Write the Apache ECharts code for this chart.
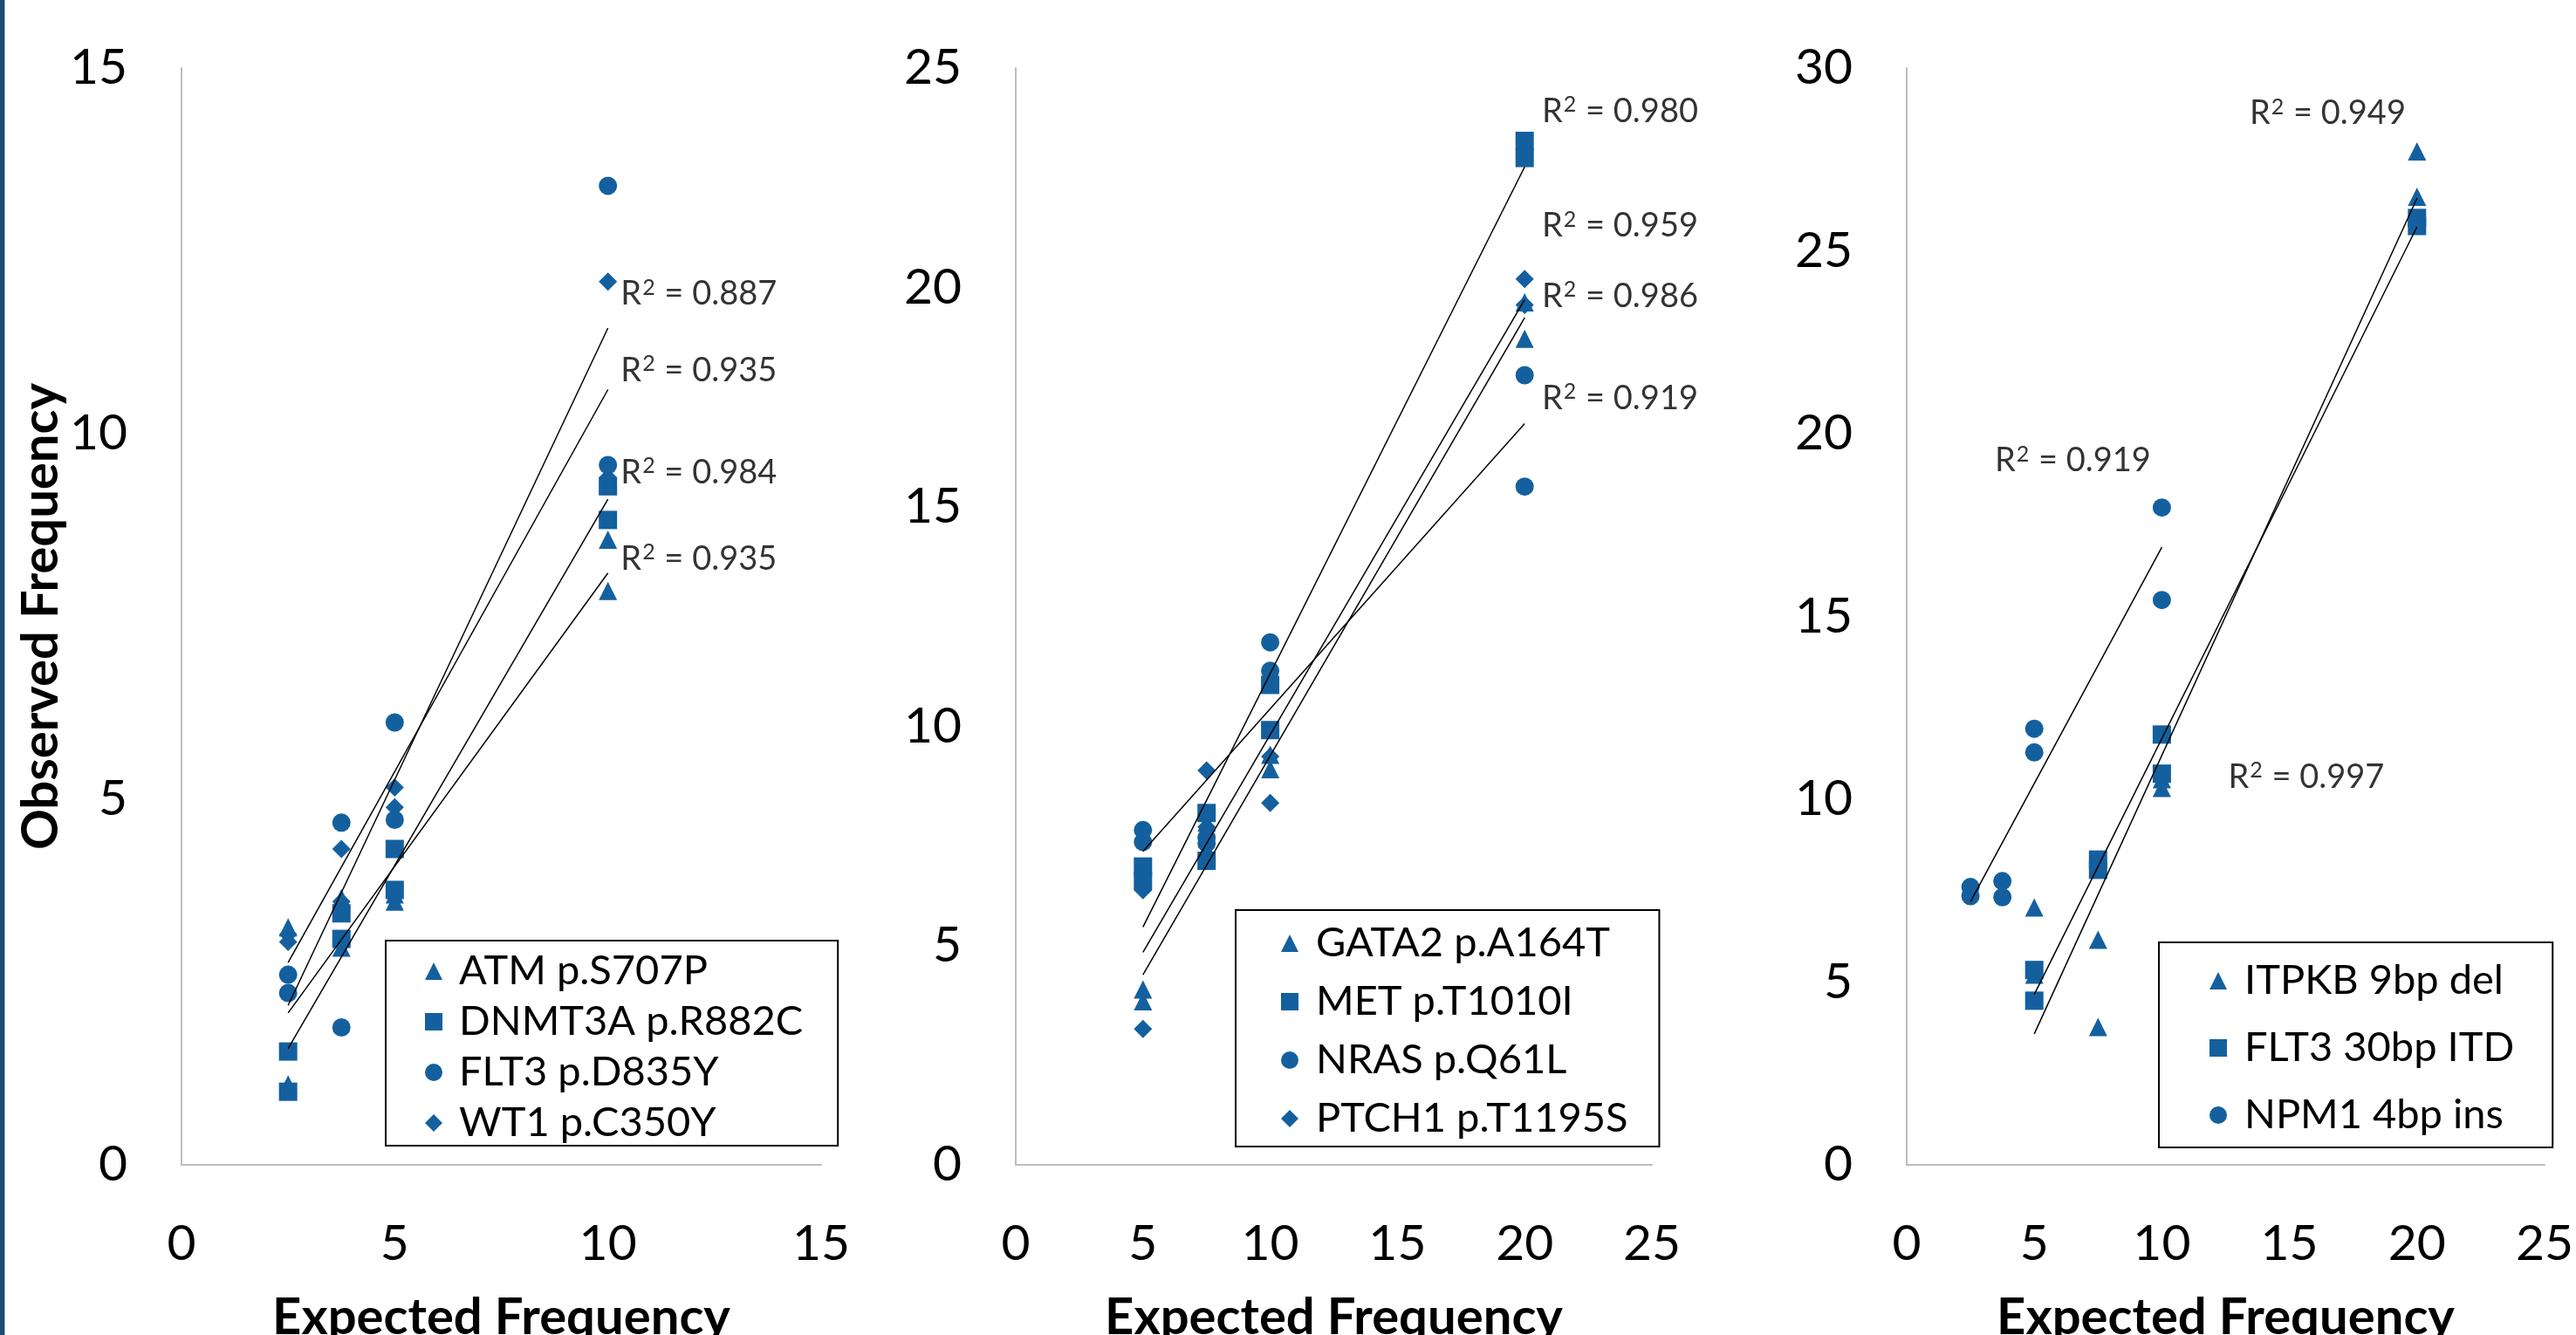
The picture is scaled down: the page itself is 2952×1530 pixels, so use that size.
<!DOCTYPE html>
<html>
<head>
<meta charset="utf-8">
<title>Observed vs expected frequency</title>
<script src="https://cdn.jsdelivr.net/npm/echarts@6.0.0/dist/echarts.min.js"></script>
<style>
  html, body { margin: 0; padding: 0; background: #fff; }
  #chart { width: 2952px; height: 1530px; }
</style>
</head>
<body>
<div id="chart"></div>
<script>
// expected frequencies (x values)
const expLow = [2.5, 2.5, 3.75, 3.75, 5, 5, 10, 10];
const expHigh = [5, 5, 7.5, 7.5, 10, 10, 20, 20];

// panel 1 - observed frequencies
const atmS707P = [3.25, 1.1, 3.65, 2.97, 3.7, 3.6, 8.55, 7.85];
const dnmt3aR882C = [1.55, 1.0, 3.44, 3.09, 4.32, 3.76, 9.28, 8.82];
const flt3D835Y = [2.6, 2.35, 4.68, 1.88, 6.05, 4.72, 13.39, 9.57];
const wt1C350Y = [3.15, 3.05, 4.32, 3.6, 5.16, 4.89, 12.08, 9.4];

// panel 2
const gata2A164T = [4.0, 3.73, 7.8, 7.2, 9.35, 9.02, 19.66, 18.83];
const metT1010I = [6.8, 6.47, 8.02, 6.93, 10.94, 9.91, 23.34, 22.95];
const nrasQ61L = [7.63, 7.36, 7.46, 7.33, 11.91, 11.26, 18.0, 15.46];
const ptch1T1195S = [6.26, 3.1, 8.99, 7.7, 9.31, 8.25, 20.19, 19.6];

// panel 3
const itpkb9bpDel = [7.04, 5.2, 6.16, 3.77, 10.55, 10.31, 27.72, 26.48];
const flt3Itd = [5.33, 4.49, 8.35, 8.07, 11.77, 10.7, 25.9, 25.68];
const npm1Ins = [7.6, 7.35, 7.76, 7.32, 11.93, 11.28, 17.98, 15.45];

// R squared shown on the chart (same order as the series)
const r2Panel1 = [0.935, 0.984, 0.887, 0.935];
const r2Panel2 = [0.986, 0.980, 0.919, 0.959];
const r2Panel3 = [0.949, 0.997, 0.919];

// axis ranges
const xMax = [15, 25, 25];
const yMax = [15, 25, 30];
const tickStep = 5;

const blue = '#14609e';
const font = 'Lato, "Noto Sans", sans-serif';

// panel layout (px)
const grids = [
  { left: 208, top: 78, width: 733, height: 1257 },
  { left: 1164, top: 78, width: 729, height: 1257 },
  { left: 2185, top: 78, width: 731, height: 1257 }
];

const panels = [
  {
    items: [
      { name: 'ATM p.S707P', symbol: 'triangle', x: expLow, y: atmS707P, r2: r2Panel1[0], at: [10.3, 8.29] },
      { name: 'DNMT3A p.R882C', symbol: 'rect', x: expLow, y: dnmt3aR882C, r2: r2Panel1[1], at: [10.3, 9.47] },
      { name: 'FLT3 p.D835Y', symbol: 'circle', x: expLow, y: flt3D835Y, r2: r2Panel1[2], at: [10.3, 11.91] },
      { name: 'WT1 p.C350Y', symbol: 'diamond', x: expLow, y: wt1C350Y, r2: r2Panel1[3], at: [10.3, 10.86] }
    ],
    legend: { left: 442, top: 1078, padding: [10, 40, 1, 45], itemGap: 8, textPad: 14 }
  },
  {
    items: [
      { name: 'GATA2 p.A164T', symbol: 'triangle', x: expHigh, y: gata2A164T, r2: r2Panel2[0], at: [20.68, 19.8] },
      { name: 'MET p.T1010I', symbol: 'rect', x: expHigh, y: metT1010I, r2: r2Panel2[1], at: [20.68, 24.01] },
      { name: 'NRAS p.Q61L', symbol: 'circle', x: expHigh, y: nrasQ61L, r2: r2Panel2[2], at: [20.68, 17.47] },
      { name: 'PTCH1 p.T1195S', symbol: 'diamond', x: expHigh, y: ptch1T1195S, r2: r2Panel2[3], at: [20.68, 21.4] }
    ],
    legend: { left: 1416, top: 1043, padding: [13, 36, 7, 52], itemGap: 17, textPad: 15 }
  },
  {
    items: [
      { name: 'ITPKB 9bp del', symbol: 'triangle', x: expHigh, y: itpkb9bpDel, r2: r2Panel3[0], at: [13.44, 28.76] },
      { name: 'FLT3 30bp ITD', symbol: 'rect', x: expHigh, y: flt3Itd, r2: r2Panel3[1], at: [12.6, 10.6] },
      { name: 'NPM1 4bp ins', symbol: 'circle', x: expLow, y: npm1Ins, r2: r2Panel3[2], at: [3.45, 19.26] }
    ],
    legend: { left: 2474, top: 1080, padding: [19, 44, 12, 58], itemGap: 27, textPad: 15 }
  }
];

// least squares line
function fit(xs, ys) {
  const n = xs.length;
  const mx = xs.reduce((a, b) => a + b, 0) / n;
  const my = ys.reduce((a, b) => a + b, 0) / n;
  let sxy = 0, sxx = 0;
  for (let i = 0; i < n; i++) {
    sxy += (xs[i] - mx) * (ys[i] - my);
    sxx += (xs[i] - mx) * (xs[i] - mx);
  }
  const b = sxy / sxx;
  return { a: my - b * mx, b: b };
}

const series = [];
panels.forEach((p, i) => {
  p.items.forEach(s => {
    series.push({
      name: s.name,
      type: 'scatter',
      xAxisIndex: i,
      yAxisIndex: i,
      symbol: s.symbol,
      symbolSize: 21,
      itemStyle: { color: blue, opacity: 1 },
      data: s.x.map((x, k) => [x, s.y[k]]),
      z: 2
    });
  });
  // trend lines on top of the markers
  p.items.forEach(s => {
    const f = fit(s.x, s.y);
    const x0 = Math.min(...s.x), x1 = Math.max(...s.x);
    series.push({
      name: 'trend ' + s.name,
      type: 'line',
      xAxisIndex: i,
      yAxisIndex: i,
      showSymbol: false,
      symbol: 'none',
      lineStyle: { color: '#000', width: 1.5 },
      data: [[x0, f.a + f.b * x0], [x1, f.a + f.b * x1]],
      z: 3,
      silent: true
    });
  });
  // R² labels
  series.push({
    name: 'r2 ' + i,
    type: 'scatter',
    xAxisIndex: i,
    yAxisIndex: i,
    symbolSize: 0,
    silent: true,
    data: p.items.map(s => ({ value: s.at, r2: s.r2 })),
    label: {
      show: true,
      position: 'right',
      distance: 0,
      color: '#000',
      formatter: prm => '{r|R}{s|2}{r| = ' + prm.data.r2.toFixed(3) + '}',
      rich: {
        r: { fontFamily: font, fontSize: 38, lineHeight: 44, color: '#000' },
        s: { fontFamily: font, fontSize: 25, lineHeight: 44, color: '#000', verticalAlign: 'top', padding: [2, 1, 0, 1] }
      }
    },
    z: 4
  });
});

const axisLabel = { fontFamily: font, fontSize: 57, color: '#000' };
const axisLine = { show: true, lineStyle: { color: '#bdbdbd', width: 2 } };
const nameStyle = { fontFamily: font, fontSize: 58, fontWeight: 'bold', color: '#000' };

const option = {
  animation: false,
  backgroundColor: '#fff',
  grid: grids.map(g => Object.assign({ outerBoundsMode: 'none', containLabel: false }, g)),
  xAxis: xMax.map((m, i) => ({
    type: 'value',
    gridIndex: i,
    min: 0,
    max: m,
    interval: tickStep,
    name: 'Expected Frequency',
    nameLocation: 'middle',
    nameGap: 146,
    nameTextStyle: nameStyle,
    axisLine: axisLine,
    axisTick: { show: false },
    splitLine: { show: false },
    axisLabel: Object.assign({ margin: 62 }, axisLabel)
  })),
  yAxis: yMax.map((m, i) => ({
    type: 'value',
    gridIndex: i,
    min: 0,
    max: m,
    interval: tickStep,
    name: i === 0 ? 'Observed Frequency' : '',
    nameLocation: 'middle',
    nameGap: 122,
    nameRotate: 90,
    nameTextStyle: nameStyle,
    axisLine: axisLine,
    axisTick: { show: false },
    splitLine: { show: false },
    axisLabel: Object.assign({ margin: 62, padding: [12, 0, 0, 0] }, axisLabel)
  })),
  legend: panels.map(p => ({
    orient: 'vertical',
    left: p.legend.left,
    top: p.legend.top,
    padding: p.legend.padding,
    itemGap: p.legend.itemGap,
    itemWidth: 20,
    itemHeight: 20,
    borderColor: '#000',
    borderWidth: 2,
    selectedMode: false,
    data: p.items.map(s => s.name),
    textStyle: {
      fontFamily: font,
      fontSize: 47,
      lineHeight: 50,
      color: '#000',
      padding: [0, 0, 0, p.legend.textPad]
    }
  })),
  graphic: [
    { type: 'rect', left: 0, top: 0, shape: { width: 5, height: 1530 }, style: { fill: '#1b4a72' } },
    { type: 'rect', left: 5, top: 0, shape: { width: 1, height: 1530 }, style: { fill: '#9db8d4' } }
  ],
  series: series
};

const chart = echarts.init(document.getElementById('chart'));
chart.setOption(option);
</script>
</body>
</html>
